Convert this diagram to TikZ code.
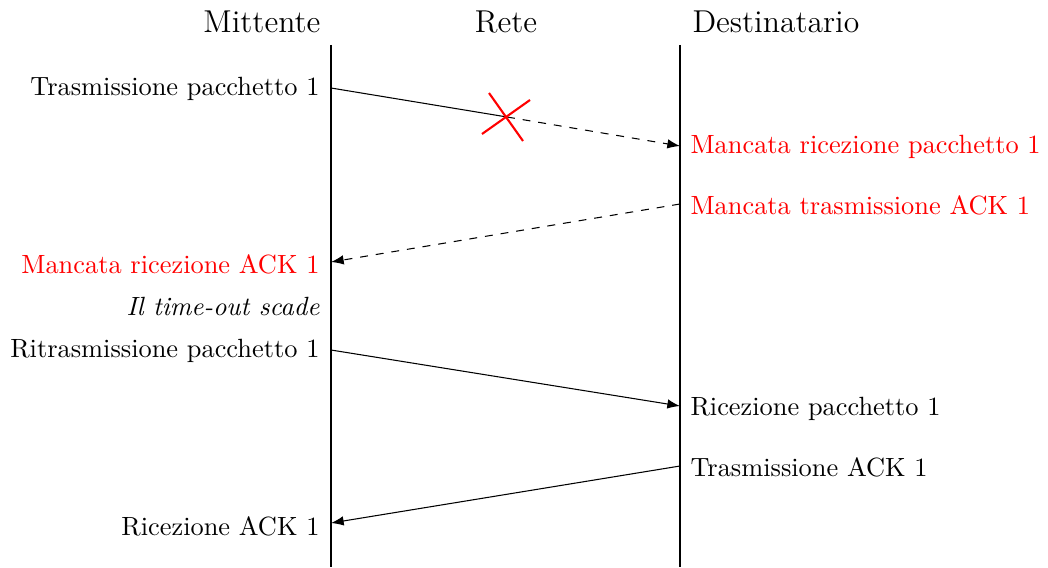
\documentclass[tikz,border=0pt]{standalone}
\usetikzlibrary{arrows.meta}
\begin{document}
\begin{tikzpicture}[x=0.3793pt,y=-0.3793pt,
  lifeline/.style={line width=0.4pt},
  msg/.style={-{Latex},line width=0.4pt},
  lost/.style={-{Latex},dashed,line width=0.4pt},
  leftlbl/.style={anchor=east,inner sep=0pt},
  rightlbl/.style={anchor=west,inner sep=0pt},
  title/.style={font=\large,inner sep=0pt},
  fail/.style={text=red}]
\useasboundingbox (0,0) rectangle (1048,567);

% headings
\node[title,anchor=east] (hs) at (321,22) {Mittente};
\node[title] (hn) at (506,22) {Rete};
\node[title,anchor=west] (hd) at (692,22) {Destinatario};

% lifelines
\coordinate (stop) at (331,45);
\coordinate (sbot) at (331,567);
\coordinate (dtop) at (680,45);
\coordinate (dbot) at (680,567);
\draw[lifeline] (stop) -- (sbot);
\draw[lifeline] (dtop) -- (dbot);

% message end points
\coordinate (s1) at (331,88);
\coordinate (x1) at (507,117);
\coordinate (d1) at (680,146);
\coordinate (d2) at (680,204);
\coordinate (s2) at (331,262);
\coordinate (s3) at (331,350);
\coordinate (d3) at (680,406);
\coordinate (d4) at (680,466);
\coordinate (s4) at (331,523);

% labels, sender side
\node[leftlbl] (l1) at (320,89) {Trasmissione pacchetto 1};
\node[leftlbl,fail] (l2) at (320,264) {Mancata ricezione ACK 1};
\node[leftlbl,font=\itshape] (l3) at (320,306) {Il time-out scade};
\node[leftlbl] (l4) at (320,351) {Ritrasmissione pacchetto 1};
\node[leftlbl] (l5) at (320,526) {Ricezione ACK 1};

% labels, receiver side
\node[rightlbl,fail] (r1) at (690,147) {Mancata ricezione pacchetto 1};
\node[rightlbl,fail] (r2) at (690,205) {Mancata trasmissione ACK 1};
\node[rightlbl] (r3) at (690,409) {Ricezione pacchetto 1};
\node[rightlbl] (r4) at (690,467) {Trasmissione ACK 1};

% messages
\draw[line width=0.4pt] (s1) -- (x1);
\draw[lost] (x1) -- (d1);
\draw[lost] (d2) -- (s2);
\draw[msg] (s3) -- (d3);
\draw[msg] (d4) -- (s4);

% loss marker
\coordinate (c1) at (489,93);
\coordinate (c2) at (523,141);
\coordinate (c3) at (482,134);
\coordinate (c4) at (530,100);
\draw[red,line width=0.8pt] (c1) -- (c2);
\draw[red,line width=0.8pt] (c3) -- (c4);
\end{tikzpicture}
\end{document}
